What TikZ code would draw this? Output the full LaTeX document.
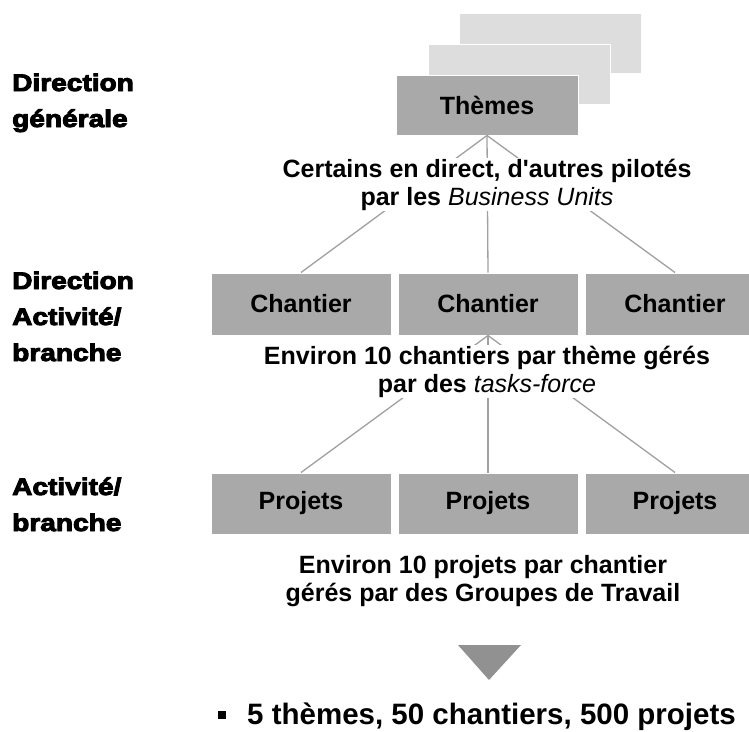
\documentclass[tikz,border=0pt]{standalone}
\usepackage{fontspec}
\setmainfont{Liberation Sans}[Ligatures=TeXOff]
\newfontfamily\blackfont[FakeBold=4,FakeStretch=1.17,Ligatures=TeXOff]{Liberation Sans Bold}
\definecolor{boxgray}{HTML}{A9A9A9}
\definecolor{lightbox}{HTML}{DDDDDD}
\definecolor{linegray}{HTML}{A0A0A0}
\definecolor{arrowgray}{HTML}{919191}
\tikzset{
  frontbox/.style={draw=white, line width=1pt, fill=boxgray, minimum width=180pt, minimum height=62pt, inner sep=0pt, font=\fontsize{25}{28}\selectfont\bfseries},
  backbox/.style={draw=white, line width=1pt, fill=lightbox, minimum width=182pt, minimum height=60pt, inner sep=0pt},
  conn/.style={draw=linegray, line width=1.3pt},
  caption/.style={fill=white, align=center, inner sep=1pt, font=\fontsize{25}{28}\selectfont\bfseries},
  sidelabel/.style={align=left, inner sep=0pt, anchor=base west, font=\fontsize{24}{36}\selectfont\blackfont}
}
\begin{document}
\begin{tikzpicture}[x=1pt,y=-1pt]
\useasboundingbox (0,0) rectangle (749,731);
\clip (0,0) rectangle (749,731);
% stacked theme boxes
\node[backbox] (back1) at (550,43.5) {};
\node[backbox] (back2) at (519,74) {};
\node[frontbox, minimum width=182pt, minimum height=60pt] (themes) at (487,105) {Thèmes};
% chantiers
\node[frontbox] (c1) at (301,304) {Chantier};
\node[frontbox] (c2) at (488,304) {Chantier};
\node[frontbox] (c3) at (675,304) {Chantier};
% projets
\node[frontbox, minimum height=61pt] (p1) at (301,503.5) {Projets};
\node[frontbox, minimum height=61pt] (p2) at (488,503.5) {Projets};
\node[frontbox, minimum height=61pt] (p3) at (675,503.5) {Projets};
% connectors
\draw[conn] (themes.south) -- (c1.north);
\draw[conn] (themes.south) -- (c2.north);
\draw[conn] (themes.south) -- (c3.north);
\draw[conn] (c2.south) -- (p1.north);
\draw[conn] (c2.south) -- (p2.north);
\draw[conn] (c2.south) -- (p3.north);
% captions (base anchor = last line baseline)
\node[caption, anchor=base] (cap1) at (487,205) {Certains en direct, d'autres pilotés\\par les {\mdseries\itshape Business Units}};
\node[caption, anchor=base] (cap2) at (487,392) {Environ 10 chantiers par thème gérés\\par des {\mdseries\itshape tasks-force}};
\node[caption, anchor=base] (cap3) at (483,601.5) {Environ 10 projets par chantier\\gérés par des Groupes de Travail};
% side labels
\node[sidelabel] (lab1) at (12,127) {Direction\\générale};
\node[sidelabel] (lab2) at (12,361) {Direction\\Activité/\\branche};
\node[sidelabel] (lab3) at (12,531) {Activité/\\branche};
% arrow
\fill[arrowgray] (458,645) -- (521,645) -- (489,680) -- cycle;
% bottom bullet
\node[fill=black, minimum size=8pt, inner sep=0pt] (bul) at (222,715) {};
\node[anchor=base west, inner sep=0pt, font=\fontsize{29.5}{34}\selectfont\bfseries] (summary) at (247,724) {5 thèmes, 50 chantiers, 500 projets};
\end{tikzpicture}
\end{document}
